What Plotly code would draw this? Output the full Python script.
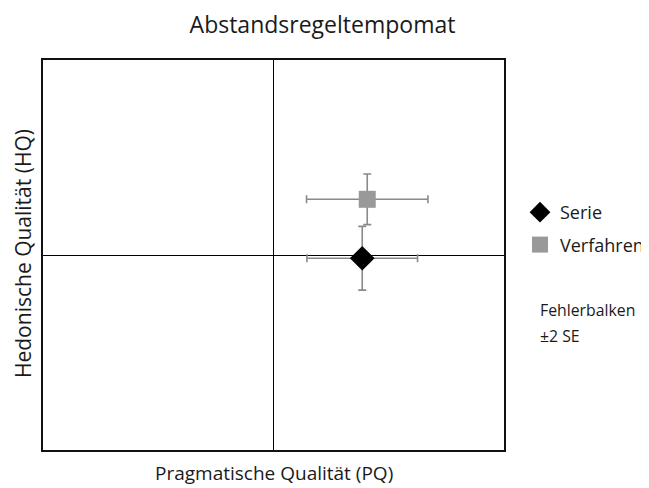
import plotly.graph_objects as go

series_names = ["Serie", "Verfahren"]
pq_values = [1.155, 1.22]
hq_values = [-0.05, 0.857]
pq_err = [0.72, 0.79]
hq_err = [0.49, 0.39]
symbols = ["diamond", "square"]
colors = ["#000000", "#999999"]
marker_sizes = [19, 17]

FONT = "Open Sans, Noto Sans, sans-serif"
TXT = "#1a1a1a"

# The page body has an 8px margin, so the figure is drawn 8px smaller and shifted.
OFF = 8
W, H = 649 - OFF, 488 - OFF
PL, PR, PT, PB = 43, 504, 60, 450  # plot area in window pixels
PW, PH = PR - PL, PB - PT

fig = go.Figure()
for i, name in enumerate(series_names):
    fig.add_trace(go.Scatter(
        x=[pq_values[i]], y=[hq_values[i]], name=name, mode="markers",
        legendgroup=name,
        marker=dict(symbol=symbols[i], color=colors[i], size=marker_sizes[i],
                    line=dict(width=0)),
        error_x=dict(type="data", array=[pq_err[i]], color="#8a8a8a", thickness=1.6, width=4),
        error_y=dict(type="data", array=[hq_err[i]], color="#8a8a8a", thickness=1.6, width=4),
    ))

fig.update_layout(
    width=W, height=H,
    margin=dict(l=PL - OFF, r=649 - PR, t=PT - OFF, b=488 - PB, autoexpand=False),
    paper_bgcolor="white", plot_bgcolor="white",
    font=dict(family=FONT, color=TXT),
    showlegend=True,
    legend=dict(x=(520 - PL) / PW, y=(PB - 194) / PH, xanchor="left", yanchor="top",
                font=dict(size=18, family=FONT, color=TXT),
                tracegroupgap=6, itemwidth=30, bgcolor="rgba(0,0,0,0)"),
    title=dict(text="Abstandsregeltempomat", x=(322.5 - OFF) / W, xanchor="center",
               y=1 - (25 - OFF) / H, yanchor="middle",
               font=dict(size=23, family=FONT, color=TXT)),
)
fig.update_xaxes(range=[-3, 3], showgrid=False, showticklabels=False, ticks="",
                 zeroline=True, zerolinecolor="#000000", zerolinewidth=1,
                 showline=True, mirror=True, linecolor="#111111", linewidth=2)
fig.update_yaxes(range=[-3, 3], showgrid=False, showticklabels=False, ticks="",
                 zeroline=True, zerolinecolor="#000000", zerolinewidth=1,
                 showline=True, mirror=True, linecolor="#111111", linewidth=2)

# axis titles
fig.add_annotation(x=0.5, y=-(473 - PB) / PH, xref="paper", yref="paper",
                   xanchor="center", yanchor="middle", showarrow=False,
                   text="Pragmatische Qualität (PQ)",
                   font=dict(size=19, family=FONT, color=TXT))
fig.add_annotation(x=-(PL - 23) / PW, y=(PB - 254) / PH, xref="paper", yref="paper",
                   xanchor="center", yanchor="middle", showarrow=False, textangle=-90,
                   text="Hedonische Qualität (HQ)",
                   font=dict(size=21, family=FONT, color=TXT))

# error bar note
fig.add_annotation(x=(538 - PL) / PW, y=(PB - 310) / PH, xref="paper", yref="paper",
                   xanchor="left", yanchor="middle", text="Fehlerbalken", showarrow=False,
                   font=dict(size=15.8, family=FONT, color=TXT))
fig.add_annotation(x=(538 - PL) / PW, y=(PB - 336) / PH, xref="paper", yref="paper",
                   xanchor="left", yanchor="middle", text="±2 SE", showarrow=False,
                   font=dict(size=15.8, family=FONT, color=TXT))

fig.write_html("out.html")
